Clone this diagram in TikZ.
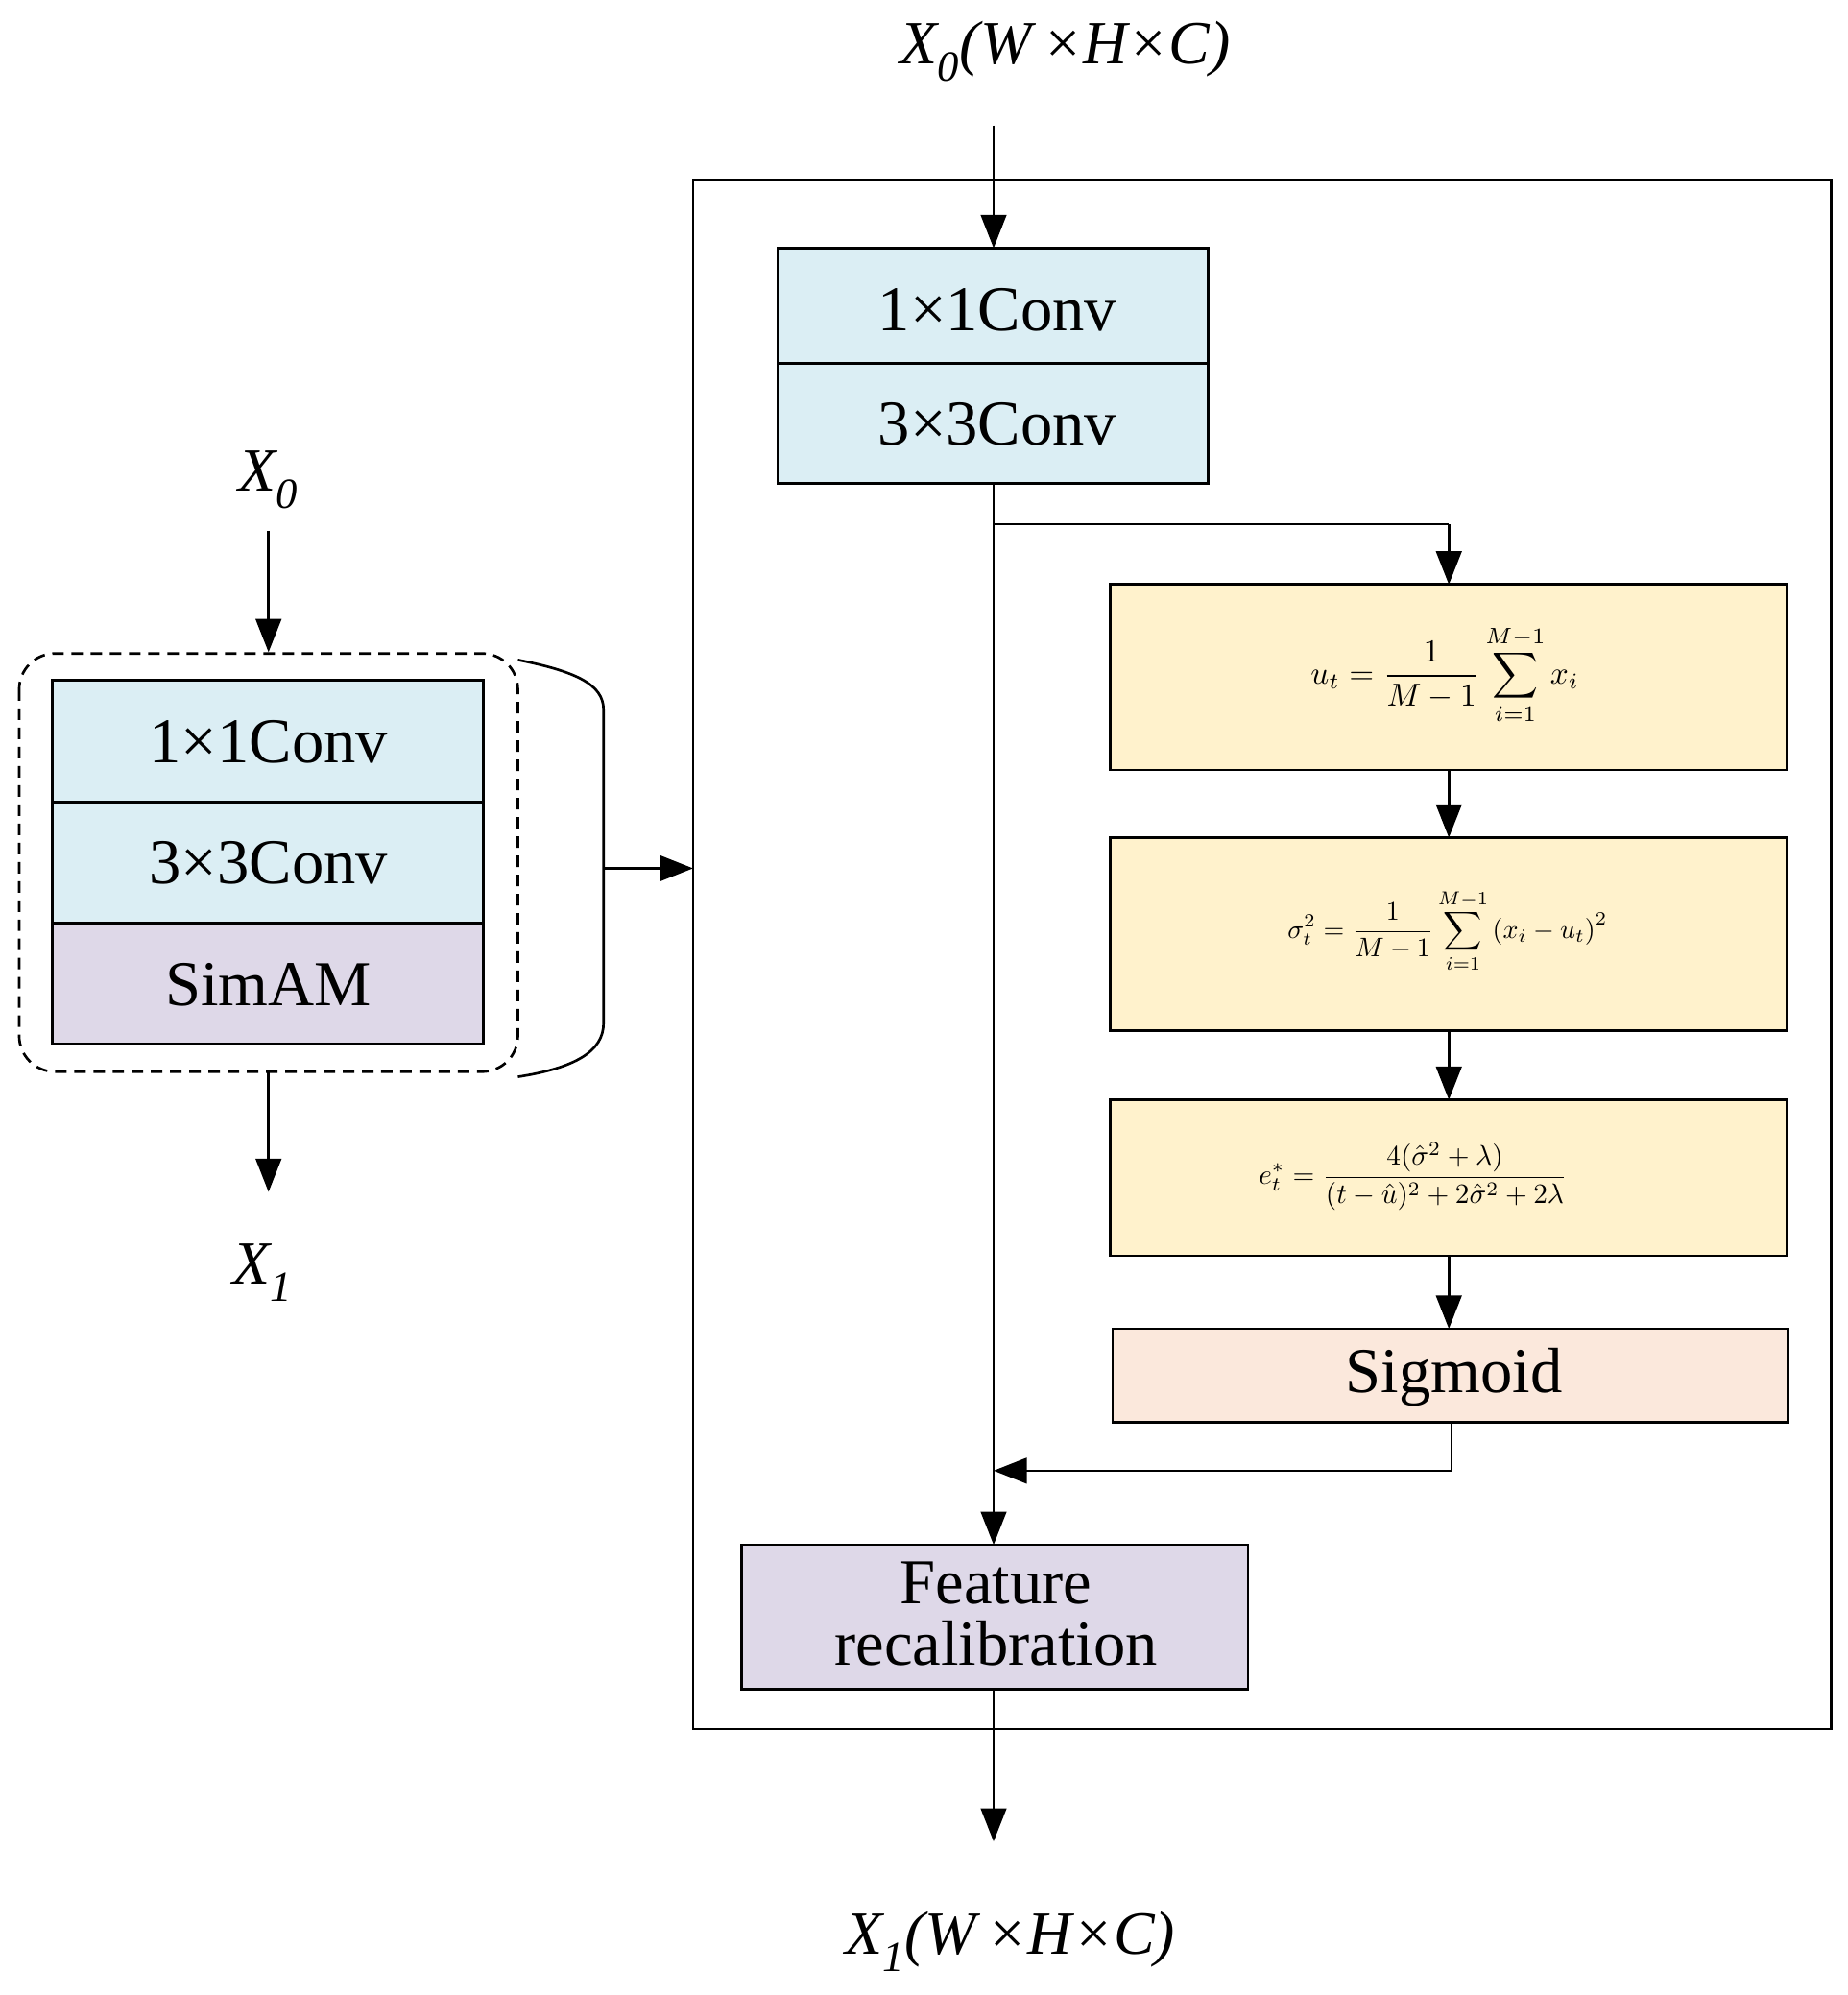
\documentclass[tikz,border=0pt]{standalone}
\usepackage{fontspec}
\setmainfont{Liberation Serif}
\usetikzlibrary{arrows.meta}
\definecolor{cblue}{RGB}{219,238,244}
\definecolor{cyel}{RGB}{255,242,204}
\definecolor{csig}{RGB}{251,232,220}
\definecolor{cpur}{RGB}{222,216,232}
\begin{document}
\begin{tikzpicture}[x=1pt,y=-1pt,
  box/.style={draw,line width=2pt,inner sep=0pt},
  arr/.style={line width=2pt,-{Triangle[length=26pt,width=20pt]}},
  ln/.style={line width=2pt},
  big/.style={font=\fontsize{50}{56}\selectfont},
  lab/.style={font=\fontsize{48}{52}\selectfont\itshape}]
\useasboundingbox (0,0) rectangle (1445,1560);
% right panel
\node[lab] (t0) at (833,40) {X\textsubscript{0}(W\,×H×C)};
\draw[ln] (542,141) rectangle (1432,1352);
\draw[box,fill=cblue] (608,194) rectangle (945,378);
\draw[ln] (608,284) -- (945,284);
\node[big] (c1) at (780,242) {1×1Conv};
\node[big] (c2) at (780,332) {3×3Conv};
\coordinate (ctop) at (777,194);
\coordinate (cbot) at (777,378);
\coordinate (tin) at (777,98);
\draw[arr] (tin) -- (ctop);
\draw[box,fill=cyel] (868,457) rectangle (1397,602);
\node (f1) at (1130,528) {\scalebox{2.5}{$\displaystyle u_t=\frac{1}{M-1}\sum_{i=1}^{M-1}x_i$}};
\draw[box,fill=cyel] (868,655) rectangle (1397,806);
\node (f2) at (1132,728) {\scalebox{2.1}{$\displaystyle \sigma_t^2=\frac{1}{M-1}\sum_{i=1}^{M-1}\left(x_i-u_t\right)^2$}};
\draw[box,fill=cyel] (868,860) rectangle (1397,982);
\node (f3) at (1105,920) {\scalebox{2.2}{$\displaystyle e_t^*=\frac{4(\hat\sigma^2+\lambda)}{(t-\hat u)^2+2\hat\sigma^2+2\lambda}$}};
\draw[box,fill=csig] (870,1039) rectangle (1398,1112);
\node[big] (sg) at (1137,1077) {Sigmoid};
\draw[box,fill=cpur] (580,1208) rectangle (976,1321);
\node[big,align=center,font=\fontsize{50}{48}\selectfont] (fr) at (779,1262) {Feature\\recalibration};
\draw[ln] (cbot) -- (777,410) -- (1133,410);
\draw[arr] (1133,410) -- (1133,457);
\draw[arr] (1133,602) -- (1133,655);
\draw[arr] (1133,806) -- (1133,860);
\draw[arr] (1133,982) -- (1133,1039);
\draw[arr] (cbot) -- (777,1208);
\draw[ln] (1135,1112) -- (1135,1150) -- (800,1150);
\draw[arr] (1135,1150) -- (777,1150);
\draw[arr] (777,1321) -- (777,1440);
\node[lab] (t1) at (790,1518) {X\textsubscript{1}(W\,×H×C)};
% left panel
\node[lab] (l0) at (210,375) {X\textsubscript{0}};
\draw[arr] (210,415) -- (210,510);
\draw[line width=2pt,dash pattern=on 9pt off 6pt,rounded corners=28pt] (15,511) rectangle (405,838);
\draw[box,fill=cblue] (41,532) rectangle (378,722);
\draw[box,fill=cpur] (41,722) rectangle (378,816);
\draw[ln] (41,627) -- (378,627);
\node[big] at (210,580) {1×1Conv};
\node[big] at (210,675) {3×3Conv};
\node[big] at (210,770) {SimAM};
\draw[arr] (210,838) -- (210,932);
\node[lab] (l1) at (205,995) {X\textsubscript{1}};
\draw[ln] (405,516) .. controls (450,525) and (472,535) .. (472,555) -- (472,800) .. controls (472,822) and (450,835) .. (405,842);
\draw[arr] (472,679) -- (542,679);
\end{tikzpicture}
\end{document}
